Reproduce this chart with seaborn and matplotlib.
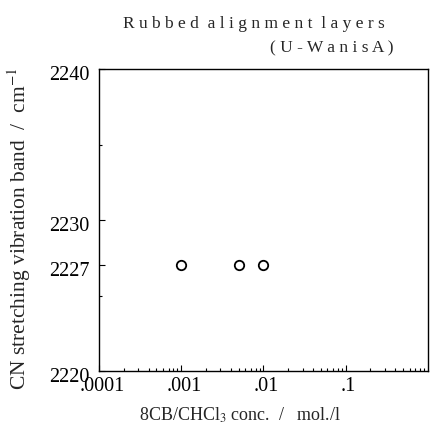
import matplotlib
matplotlib.use("Agg")
import matplotlib.pyplot as plt
import matplotlib.transforms as mtransforms
import seaborn as sns
import pandas as pd
from matplotlib.ticker import FixedLocator, NullFormatter, LogLocator

sns.set_style("white")
plt.rcParams['font.family'] = ['Liberation Serif', 'DejaVu Serif']
plt.rcParams['mathtext.fontset'] = 'stix'

conc = [0.001, 0.005, 0.01]
wavenumber = [2227, 2227, 2227]
xtick_vals = [0.0001, 0.001, 0.01, 0.1]
xtick_labels = [".0001", ".001", ".01", ".1"]
ytick_vals = [2220, 2227, 2230, 2240]
ytick_labels = ["2220", "2227", "2230", "2240"]

df = pd.DataFrame({"conc": conc, "wn": wavenumber})

fig = plt.figure(figsize=(4.31, 4.30), dpi=100)
ax = fig.add_axes([0.2297, 0.1372, 0.7633, 0.7023])

sns.scatterplot(data=df, x="conc", y="wn", ax=ax, marker="o", s=46,
                facecolor="white", edgecolor="black", linewidth=1.3, legend=False, zorder=3)

ax.set_xscale("log")
ax.set_xlim(1e-4, 1)
ax.set_ylim(2220, 2240)
ax.set_xticks(xtick_vals)
ax.set_xticklabels(xtick_labels)
ax.xaxis.set_minor_locator(LogLocator(base=10, subs=range(2, 10), numticks=20))
ax.xaxis.set_minor_formatter(NullFormatter())
ax.set_yticks(ytick_vals)
ax.set_yticklabels(ytick_labels)
ax.yaxis.set_minor_locator(FixedLocator([2225, 2235]))
ax.yaxis.set_minor_formatter(NullFormatter())

ax.tick_params(axis="both", which="both", direction="in", bottom=True, left=True,
               top=False, right=False, colors="black")
ax.tick_params(axis="both", which="major", length=4, width=0.8, labelsize=14.5)
ax.tick_params(axis="both", which="minor", length=2.5, width=0.8)
ax.tick_params(axis="y", which="major", pad=7)
ax.tick_params(axis="x", which="major", pad=4)
off_y = mtransforms.ScaledTranslation(0, -4 / 100, fig.dpi_scale_trans)
for lab in ax.get_yticklabels():
    lab.set_transform(lab.get_transform() + off_y)
off_x = mtransforms.ScaledTranslation(3 / 100, 0, fig.dpi_scale_trans)
for lab in ax.get_xticklabels():
    lab.set_transform(lab.get_transform() + off_x)

for sp in ax.spines.values():
    sp.set_visible(True)
    sp.set_linewidth(1.0)
    sp.set_color("black")

ax.set_xlabel("8CB/CHCl$_3$ conc.  /   mol./l", fontsize=13)
ax.xaxis.set_label_coords(0.43, -0.115)
ax.set_ylabel("CN stretching vibration band  /  cm$^{-1}$", fontsize=15.5)
ax.yaxis.set_label_coords(-0.2, 0.47)

fig.text(0.59, 0.945, "R u b b e d  a l i g n m e n t  l a y e r s",
         ha="center", va="center", fontsize=12.5)
fig.text(0.913, 0.888, "( U - W a n i s A )", ha="right", va="center", fontsize=12.5)

fig.savefig("out.png", dpi=100, facecolor="white")
